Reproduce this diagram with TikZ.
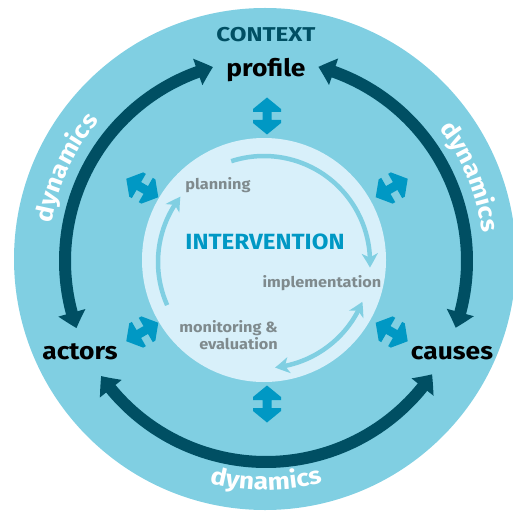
\documentclass[tikz,border=0pt]{standalone}
\usepackage{fontspec}
\setmainfont{Fira Sans}[FakeStretch=1.1]
\usetikzlibrary{arrows.meta,bending,decorations.text}
\definecolor{ring}{HTML}{80CFE2}
\definecolor{innerbg}{HTML}{D8F0FA}
\definecolor{darkteal}{HTML}{004F63}
\definecolor{midblue}{HTML}{0098C4}
\definecolor{labgrey}{HTML}{7F8A8D}
\newcommand\dynfnt{\fontsize{24}{26}\selectfont\bfseries}
\begin{document}
\begin{tikzpicture}[x=1pt,y=1pt,
  darkarc/.style={draw=darkteal, line width=12pt,
    arrows={Triangle[width=27pt,length=16pt,bend]-Triangle[width=27pt,length=16pt,bend]}},
  lightarc/.style={draw=ring, line width=4.5pt},
  lhead/.style={arrows={-Stealth[width=16pt,length=14pt,inset=4pt,bend]}},
  ldouble/.style={arrows={Stealth[width=16pt,length=14pt,inset=4pt,bend]-Stealth[width=16pt,length=14pt,inset=4pt,bend]}},
  bigtext/.style={inner sep=0pt, font=\fontsize{24}{26}\selectfont\bfseries},
  innertext/.style={inner sep=0pt, text=labgrey, font=\fontsize{14.8}{17}\selectfont\bfseries},
  dynpath/.style={decorate, decoration={text along path, text={|\dynfnt|dynamics},
    text align=center, text color=white}},
  dblarrow/.pic={\fill[midblue] (18.5,0) -- (7,14) -- (4,14) -- (4,4.5) -- (-4,4.5) -- (-4,14) -- (-7,14)
    -- (-18.5,0) -- (-7,-14) -- (-4,-14) -- (-4,-4.5) -- (4,-4.5) -- (4,-14) -- (7,-14) -- cycle;}
]
\useasboundingbox (0,0) rectangle (513,512);
\clip (0,0) rectangle (513,512);
\coordinate (O) at (265,253);
\coordinate (I) at (264,252);
\coordinate (D) at (266,251);
\coordinate (B) at (267,252);
\coordinate (L) at (264,250);
% discs
\fill[ring] (O) circle[radius=251];
\fill[innerbg] (I) circle[radius=122];
% labels
\node[inner sep=0pt, text=darkteal, font=\fontsize{20}{22}\selectfont\bfseries] (context) at (266,477) {\scalebox{1.1}[1]{CONTEXT}};
\node[bigtext] (profile) at (266,442) {profile};
\node[bigtext] (actors) at (80,160) {actors};
\node[bigtext] (causes) at (452,159) {causes};
\node[inner sep=0pt, text=midblue, font=\fontsize{22}{24}\selectfont\bfseries] (intervention) at (265,270) {INTERVENTION};
\node[innertext] (planning) at (218,327) {planning};
\node[innertext] (implementation) at (322,229) {implementation};
\node[innertext, align=right, anchor=east] (monitoring) at (278,177) {monitoring \&\\evaluation};
% dark arcs
\draw[darkarc] (D) ++(199.5:201) arc[start angle=199.5, end angle=105.3, radius=201];
\draw[darkarc] (D) ++(74.9:201) arc[start angle=74.9, end angle=-19.4, radius=201];
\draw[darkarc] (D) ++(214.9:201) arc[start angle=214.9, end angle=325.7, radius=201];
% dynamics
\path[dynpath] (D) ++(195:218) arc[start angle=195, end angle=115, radius=218];
\path[dynpath] (D) ++(62.5:218) arc[start angle=62.5, end angle=-17.5, radius=218];
\path[dynpath] (D) ++(230:229) arc[start angle=230, end angle=310, radius=229];
% blue double arrows
\foreach \a in {30,90,150,210,270,330}
  \path (B) ++(\a:144) pic[rotate=\a] {dblarrow};
% light inner arrows
\draw[lightarc, lhead] (L) ++(108:106) arc[start angle=108, end angle=-3, radius=106];
\draw[lightarc, lhead] (L) ++(204:106) arc[start angle=204, end angle=142, radius=106];
\draw[lightarc, ldouble] (L) ++(-22:106) arc[start angle=-22, end angle=-84, radius=106];
\end{tikzpicture}
\end{document}
